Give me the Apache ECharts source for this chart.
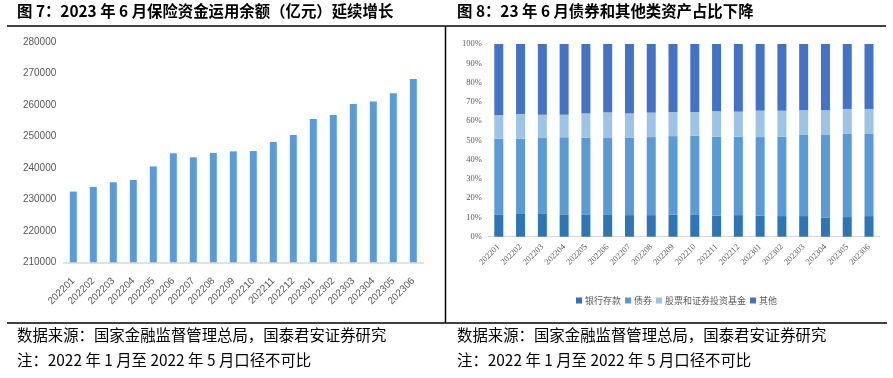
<!DOCTYPE html>
<html>
<head>
<meta charset="utf-8">
<script src="https://cdn.jsdelivr.net/npm/echarts@6/dist/echarts.min.js"></script>
<style>html,body{margin:0;padding:0;background:#fff;}#c{width:893px;height:378px;}</style>
</head>
<body>
<div id="c"></div>
<script>
const categories = ['202201','202202','202203','202204','202205','202206','202207','202208','202209','202210','202211','202212','202301','202302','202303','202304','202305','202306'];
const balance = [232500, 234000, 235450, 236200, 240500, 244700, 243400, 244800, 245300, 245400, 248300, 250500, 255600, 256900, 260400, 261200, 263800, 268300];
const leftTicks = {min: 210000, max: 280000, interval: 10000};
const deposits = [11.6,11.8,11.8,11.6,11.6,11.6,11.2,11.2,11.4,11.6,10.9,11.2,10.9,10.7,10.7,10.0,10.2,10.7];
const bonds = [39.3,39.1,39.4,40.0,39.8,39.6,40.2,40.5,40.8,40.8,41.0,40.7,40.8,41.2,42.1,42.8,43.1,42.6];
const stocks = [12.2,12.8,12.1,11.7,12.6,13.3,12.6,12.7,12.5,12.3,13.2,13.0,13.7,13.5,12.9,12.9,13.0,13.0];
const others = [36.9,36.3,36.7,36.7,36.0,35.5,36.0,35.6,35.3,35.3,34.9,35.1,34.6,34.6,34.3,34.3,33.7,33.7];
const seriesNames = ['银行存款','债券','股票和证券投资基金','其他'];
const title1 = '图 7：2023 年 6 月保险资金运用余额（亿元）延续增长';
const title2 = '图 8：23 年 6 月债券和其他类资产占比下降';
const note1 = '数据来源：国家金融监督管理总局，国泰君安证券研究';
const note2 = '注：2022 年 1 月至 2022 年 5 月口径不可比';

const chart = echarts.init(document.getElementById('c'), null, {renderer: 'canvas'});
const cjk = '"Noto Sans CJK SC", sans-serif';
const serif = '"Liberation Serif", "Noto Sans CJK SC", serif';
function txt(x, y, s, size, weight) {
  return {type: 'text', left: x, top: y, style: {text: s, font: weight + ' ' + size + 'px ' + cjk, fill: '#000'}};
}
function line(x1, y1, x2, y2) {
  return {type: 'line', shape: {x1: x1, y1: y1, x2: x2, y2: y2}, style: {stroke: '#000', lineWidth: 1.5}};
}
const palette = ['#2E75B6', '#5B9BD5', '#9DC3E6', '#4472C4'];
const stackData = [deposits, bonds, stocks, others];

chart.setOption({
  animation: false,
  graphic: [
    txt(17, 3, title1, 15.4, 'bold'),
    txt(457, 3, title2, 15.4, 'bold'),
    txt(17, 327, note1, 15.4, 'normal'),
    txt(17, 352, note2, 15.4, 'normal'),
    txt(457, 327, note1, 15.4, 'normal'),
    txt(457, 352, note2, 15.4, 'normal'),
    line(7, 26, 886, 26),
    line(7, 323, 887, 323),
    line(445.5, 26, 445.5, 323)
  ],
  legend: {
    left: 571, top: 291,
    itemWidth: 6, itemHeight: 6, itemGap: 4,
    icon: 'rect',
    data: seriesNames,
    textStyle: {fontSize: 9, color: '#595959', fontFamily: cjk, padding: [0, 0, 0, -2]}
  },
  grid: [
    {left: 63.3, width: 360, top: 42.3, height: 220},
    {left: 487.9, width: 392, top: 44, height: 192.7}
  ],
  xAxis: [
    {type: 'category', gridIndex: 0, data: categories,
     axisLine: {lineStyle: {color: '#D9D9D9', width: 1.5}}, axisTick: {show: false},
     axisLabel: {rotate: 45, interval: 0, margin: 17, fontSize: 10, color: '#595959', fontFamily: '"Liberation Sans", sans-serif'}},
    {type: 'category', gridIndex: 1, data: categories,
     axisLine: {lineStyle: {color: '#D9D9D9', width: 1}}, axisTick: {show: false},
     axisLabel: {rotate: 45, interval: 0, margin: 9, fontSize: 8.5, color: '#595959', fontFamily: serif}}
  ],
  yAxis: [
    {type: 'value', gridIndex: 0, min: leftTicks.min, max: leftTicks.max, interval: leftTicks.interval,
     splitLine: {show: false}, axisLine: {show: false}, axisTick: {show: false},
     axisLabel: {margin: 7, fontSize: 10, color: '#595959', fontFamily: '"Liberation Sans", sans-serif',
                 formatter: function (v) { return String(v); }}},
    {type: 'value', gridIndex: 1, min: 0, max: 100, interval: 10,
     splitLine: {show: false}, axisLine: {show: false}, axisTick: {show: false},
     axisLabel: {margin: 6, fontSize: 8.5, color: '#595959', fontFamily: serif, formatter: '{value}%'}}
  ],
  series: [
    {type: 'bar', xAxisIndex: 0, yAxisIndex: 0, data: balance, barWidth: 7,
     itemStyle: {color: '#5B9BD5'}}
  ].concat(seriesNames.map(function (n, i) {
    return {type: 'bar', name: n, xAxisIndex: 1, yAxisIndex: 1, stack: 'share', barWidth: 9,
            data: stackData[i], itemStyle: {color: palette[i]}};
  }))
});
</script>
</body>
</html>
